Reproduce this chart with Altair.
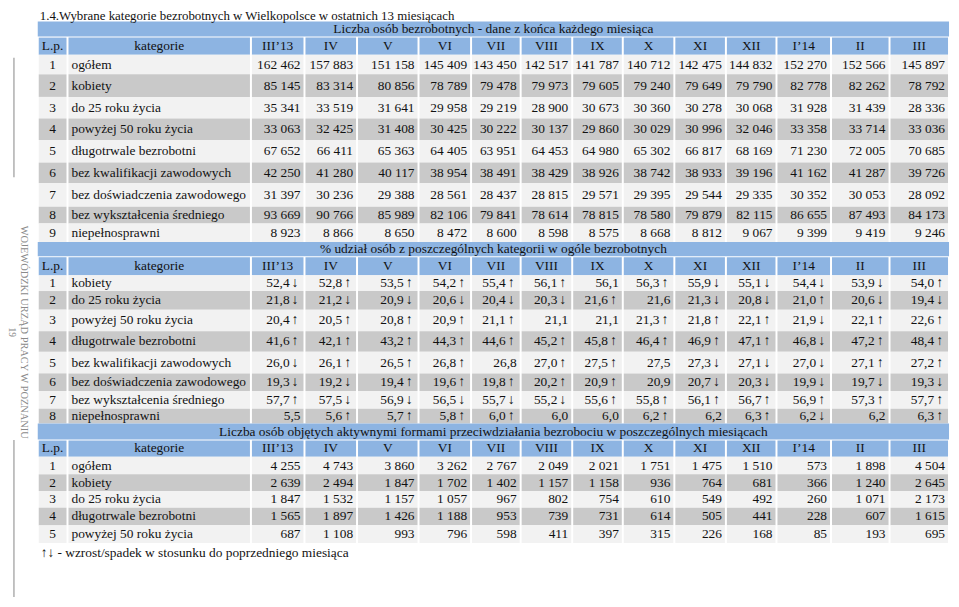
import altair as alt
import pandas as pd

# ---------------- data ----------------
months = ["III’13", "IV", "V", "VI", "VII", "VIII", "IX", "X", "XI", "XII", "I’14", "II", "III"]

title_text = "1.4.Wybrane kategorie bezrobotnych w Wielkopolsce w ostatnich 13 miesiącach"
side_text = "WOJEWÓDZKI URZĄD PRACY W POZNANIU"
page_no = "19"
legend_text = "↑↓  - wzrost/spadek w stosunku do poprzedniego miesiąca"
header_lp = "L.p."
header_cat = "kategorie"

sec1_title = "Liczba osób bezrobotnych  - dane z końca każdego miesiąca"
sec1_cats = ["ogółem", "kobiety", "do 25 roku życia", "powyżej 50 roku życia",
             "długotrwale bezrobotni", "bez kwalifikacji zawodowych",
             "bez doświadczenia zawodowego", "bez wykształcenia średniego", "niepełnosprawni"]
sec1_ogolem = [162462, 157883, 151158, 145409, 143450, 142517, 141787, 140712, 142475, 144832, 152270, 152566, 145897]
sec1_kobiety = [85145, 83314, 80856, 78789, 79478, 79973, 79605, 79240, 79649, 79790, 82778, 82262, 78792]
sec1_do25 = [35341, 33519, 31641, 29958, 29219, 28900, 30673, 30360, 30278, 30068, 31928, 31439, 28336]
sec1_pow50 = [33063, 32425, 31408, 30425, 30222, 30137, 29860, 30029, 30996, 32046, 33358, 33714, 33036]
sec1_dlugo = [67652, 66411, 65363, 64405, 63951, 64453, 64980, 65302, 66817, 68169, 71230, 72005, 70685]
sec1_bezkwal = [42250, 41280, 40117, 38954, 38491, 38429, 38926, 38742, 38933, 39196, 41162, 41287, 39726]
sec1_bezdosw = [31397, 30236, 29388, 28561, 28437, 28815, 29571, 29395, 29544, 29335, 30352, 30053, 28092]
sec1_bezwyk = [93669, 90766, 85989, 82106, 79841, 78614, 78815, 78580, 79879, 82115, 86655, 87493, 84173]
sec1_niepel = [8923, 8866, 8650, 8472, 8600, 8598, 8575, 8668, 8812, 9067, 9399, 9419, 9246]
sec1_vals = [sec1_ogolem, sec1_kobiety, sec1_do25, sec1_pow50, sec1_dlugo,
             sec1_bezkwal, sec1_bezdosw, sec1_bezwyk, sec1_niepel]

sec2_title = "% udział osób z poszczególnych kategorii w ogóle bezrobotnych"
sec2_cats = ["kobiety", "do 25 roku życia", "powyżej 50 roku życia", "długotrwale bezrobotni",
             "bez kwalifikacji zawodowych", "bez doświadczenia zawodowego",
             "bez wykształcenia średniego", "niepełnosprawni"]
sec2_kobiety = [52.4, 52.8, 53.5, 54.2, 55.4, 56.1, 56.1, 56.3, 55.9, 55.1, 54.4, 53.9, 54.0]
sec2_do25 = [21.8, 21.2, 20.9, 20.6, 20.4, 20.3, 21.6, 21.6, 21.3, 20.8, 21.0, 20.6, 19.4]
sec2_pow50 = [20.4, 20.5, 20.8, 20.9, 21.1, 21.1, 21.1, 21.3, 21.8, 22.1, 21.9, 22.1, 22.6]
sec2_dlugo = [41.6, 42.1, 43.2, 44.3, 44.6, 45.2, 45.8, 46.4, 46.9, 47.1, 46.8, 47.2, 48.4]
sec2_bezkwal = [26.0, 26.1, 26.5, 26.8, 26.8, 27.0, 27.5, 27.5, 27.3, 27.1, 27.0, 27.1, 27.2]
sec2_bezdosw = [19.3, 19.2, 19.4, 19.6, 19.8, 20.2, 20.9, 20.9, 20.7, 20.3, 19.9, 19.7, 19.3]
sec2_bezwyk = [57.7, 57.5, 56.9, 56.5, 55.7, 55.2, 55.6, 55.8, 56.1, 56.7, 56.9, 57.3, 57.7]
sec2_niepel = [5.5, 5.6, 5.7, 5.8, 6.0, 6.0, 6.0, 6.2, 6.2, 6.3, 6.2, 6.2, 6.3]
sec2_vals = [sec2_kobiety, sec2_do25, sec2_pow50, sec2_dlugo,
             sec2_bezkwal, sec2_bezdosw, sec2_bezwyk, sec2_niepel]
# u = wzrost, d = spadek, - = bez strzałki
sec2_arrows = ["duuuuu-uddddu", "ddddddu-ddudd", "uuuuu--uuuduu", "uuuuuuuuuuduu",
               "duuu-uu-ddduu", "dduuuuu-ddddd", "uddddduuuuuuu", "-uuuu--u-ud-u"]

sec3_title = "Liczba osób objętych aktywnymi formami przeciwdziałania bezrobociu w poszczególnych miesiącach"
sec3_cats = ["ogółem", "kobiety", "do 25 roku życia", "długotrwale bezrobotni", "powyżej 50 roku życia"]
sec3_ogolem = [4255, 4743, 3860, 3262, 2767, 2049, 2021, 1751, 1475, 1510, 573, 1898, 4504]
sec3_kobiety = [2639, 2494, 1847, 1702, 1402, 1157, 1158, 936, 764, 681, 366, 1240, 2645]
sec3_do25 = [1847, 1532, 1157, 1057, 967, 802, 754, 610, 549, 492, 260, 1071, 2173]
sec3_dlugo = [1565, 1897, 1426, 1188, 953, 739, 731, 614, 505, 441, 228, 607, 1615]
sec3_pow50 = [687, 1108, 993, 796, 598, 411, 397, 315, 226, 168, 85, 193, 695]
sec3_vals = [sec3_ogolem, sec3_kobiety, sec3_do25, sec3_dlugo, sec3_pow50]

# ---------------- layout (pixel grid of the table) ----------------
col_edges = [38, 68, 253, 307, 360, 422, 475, 525, 577, 628, 680, 732, 783, 838, 897, 957]
sec1_rows = [13, 29, 47, 67, 90, 112, 134, 157, 178, 202, 219, 238]
sec2_rows = [238, 253, 272, 288, 307, 329, 350, 372, 390, 408, 423]
sec3_rows = [423, 440, 457, 475, 492, 509, 527, 545]

BLUE = "#8DB4E2"
GRAY = "#C9C9C9"
LIGHT = "#F2F2F2"
FONT = "Liberation Serif"
FS = 13.5


def fmt_int(v):
    return f"{v:,}".replace(",", " ")


def fmt_pct(v):
    return f"{v:.1f}".replace(".", ",")


rects, t_left, t_center, t_right, t_arrow = [], [], [], [], []


def add_section(rows, stitle, cats, vals, arrows=None, pct=False):
    # band with section title
    rects.append(dict(x=col_edges[0], x2=col_edges[-1], y=rows[0], y2=rows[1] - 0.5, fill=BLUE))
    t_center.append(dict(x=(col_edges[0] + col_edges[-1]) / 2, y=(rows[0] + rows[1]) / 2, t=stitle))
    # header row
    heads = [header_lp, header_cat] + months
    for c, h in enumerate(heads):
        x0, x1 = col_edges[c], col_edges[c + 1]
        rects.append(dict(x=x0 + 1, x2=x1 - 1, y=rows[1] + 0.5, y2=rows[2], fill=BLUE))
        t_center.append(dict(x=(x0 + x1) / 2, y=(rows[1] + rows[2]) / 2, t=h))
    # data rows
    for r, cat in enumerate(cats):
        y0, y1 = rows[2 + r], rows[3 + r]
        ym = (y0 + y1) / 2
        fill = GRAY if r % 2 == 1 else LIGHT
        for c in range(len(col_edges) - 1):
            rects.append(dict(x=col_edges[c] + 1, x2=col_edges[c + 1] - 1, y=y0, y2=y1, fill=fill))
        t_center.append(dict(x=(col_edges[0] + col_edges[1]) / 2, y=ym, t=str(r + 1)))
        t_left.append(dict(x=col_edges[1] + 4, y=ym, t=cat))
        for m, v in enumerate(vals[r]):
            right = col_edges[m + 3]
            if pct:
                a = arrows[r][m]
                if a == "-":
                    t_right.append(dict(x=right - 4, y=ym, t=fmt_pct(v)))
                else:
                    t_right.append(dict(x=right - 15, y=ym, t=fmt_pct(v)))
                    t_arrow.append(dict(x=right - 9.5, y=ym, t="↑" if a == "u" else "↓"))
            else:
                t_right.append(dict(x=right - 4, y=ym, t=fmt_int(v)))


add_section(sec1_rows, sec1_title, sec1_cats, sec1_vals)
add_section(sec2_rows, sec2_title, sec2_cats, sec2_vals, sec2_arrows, pct=True)
add_section(sec3_rows, sec3_title, sec3_cats, sec3_vals)

t_left.append(dict(x=41, y=555, t=legend_text))

# ---------------- scales ----------------
xs = alt.Scale(domain=[8, 959], range=[0, 951], zero=False, nice=False)
ys = alt.Scale(domain=[13, 545], range=[11, 537], zero=False, nice=False)


def X(f="x"):
    return alt.X(f"{f}:Q", scale=xs, axis=None)


def Y(f="y"):
    return alt.Y(f"{f}:Q", scale=ys, axis=None)


rect_layer = alt.Chart(pd.DataFrame(rects)).mark_rect(strokeWidth=0).encode(
    x=X(), x2="x2:Q", y=Y(), y2="y2:Q", color=alt.Color("fill:N", scale=None)
)


def text_layer(rows, align, **kw):
    params = dict(font=FONT, fontSize=FS, color="#111111", align=align, baseline="middle")
    params.update(kw)
    return alt.Chart(pd.DataFrame(rows)).mark_text(**params).encode(x=X(), y=Y(), text="t:N")


title_layer = alt.Chart(pd.DataFrame([dict(x=40, y=12, t=title_text)])).mark_text(
    font=FONT, fontSize=13, color="#111111", align="left", baseline="alphabetic"
).encode(x=X(), y=Y(), text="t:N")

side_layer = alt.Chart(pd.DataFrame([dict(x=24, y=330, t=side_text)])).mark_text(
    font=FONT, fontSize=10.5, color="#8a8a8a", align="center", baseline="middle", angle=90
).encode(x=X(), y=Y(), text="t:N")

page_layer = alt.Chart(pd.DataFrame([dict(x=12.5, y=330, t=page_no)])).mark_text(
    font=FONT, fontSize=9.5, color="#8a8a8a", align="center", baseline="middle", angle=90
).encode(x=X(), y=Y(), text="t:N")

line_df = pd.DataFrame([dict(x=14, y=50, y2=172), dict(x=14, y=440, y2=600)])
line_layer = alt.Chart(line_df).mark_rule(color="#9a9a9a", strokeWidth=1.2).encode(
    x=X(), y=Y(), y2="y2:Q"
)

chart = alt.layer(
    rect_layer,
    line_layer,
    title_layer,
    side_layer,
    page_layer,
    text_layer(t_left, "left"),
    text_layer(t_center, "center"),
    text_layer(t_right, "right"),
    text_layer(t_arrow, "center", fontSize=14),
).properties(
    width=951, height=599, autosize=alt.AutoSizeParams(type="none"), padding=0, background="white"
).configure_view(strokeWidth=0)

chart.save("out.html", embed_options={"renderer": "svg", "actions": False})
